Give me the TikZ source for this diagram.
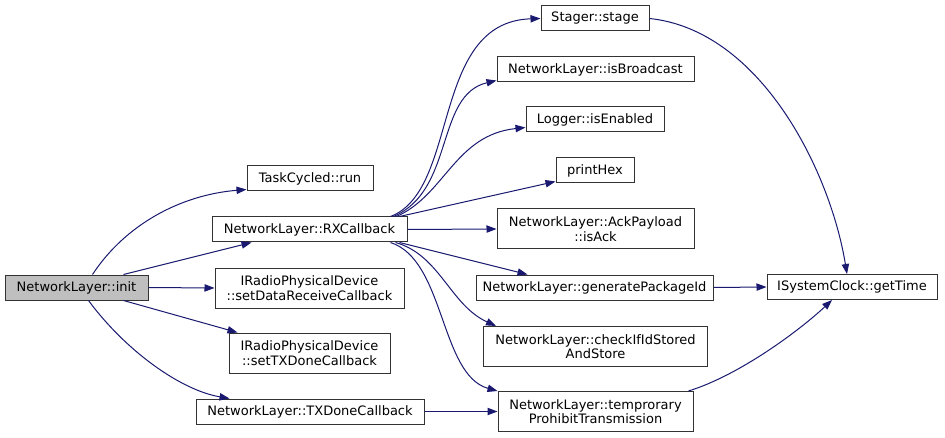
\documentclass[tikz,border=0pt]{standalone}
\usepackage{fontspec}
\setmainfont{DejaVu Sans}
\usepackage{xcolor}
\usepackage{tikz}
\usetikzlibrary{arrows.meta,calc}
\definecolor{edgeblue}{RGB}{25,25,112}
\definecolor{rootgray}{RGB}{191,191,191}

\begin{document}
\begin{tikzpicture}[
    x=0.75pt, y=-0.75pt,
    fn/.style={draw=black!80, line width=0.75pt, fill=white, minimum height=18.75pt, inner sep=0pt, align=center, font=\fontsize{9.75}{10.8}\selectfont},
    fntwo/.style={fn, minimum height=30pt},
    call/.style={draw=edgeblue, line width=0.75pt, -{Triangle[length=7.5pt,width=5.5pt]}}
]
\useasboundingbox (0,0) rectangle (945,438);
\node[fn, fill=rootgray, minimum width=107.25pt] (init) at (76.5,287.5) {NetworkLayer::init};
\node[fn, minimum width=94.5pt] (task) at (310,178.5) {TaskCycled::run};
\node[fn, minimum width=146.25pt] (rx) at (309.5,229.5) {NetworkLayer::RXCallback};
\node[fntwo, minimum width=141.75pt] (setdata) at (309.5,288) {IRadioPhysicalDevice\\::setDataReceiveCallback};
\node[fntwo, minimum width=120.75pt] (settx) at (309.5,353) {IRadioPhysicalDevice\\::setTXDoneCallback};
\node[fn, minimum width=171pt] (txdone) at (310,411.5) {NetworkLayer::TXDoneCallback};
\node[fn, minimum width=81pt] (stage) at (595,18.5) {Stager::stage};
\node[fn, minimum width=147.75pt] (bcast) at (595.5,69.5) {NetworkLayer::isBroadcast};
\node[fn, minimum width=103.5pt] (logen) at (595,119.5) {Logger::isEnabled};
\node[fn, minimum width=58.5pt] (hex) at (595,170.5) {printHex};
\node[fntwo, minimum width=147.75pt] (ack) at (595.5,229) {NetworkLayer::AckPayload\\::isAck};
\node[fn, minimum width=177.75pt] (genid) at (594.5,287.5) {NetworkLayer::generatePackageId};
\node[fntwo, minimum width=168pt] (check) at (595.5,346.5) {NetworkLayer::checkIfIdStored\\AndStore};
\node[fntwo, minimum width=146.25pt] (prohibit) at (595.5,411.5) {NetworkLayer::temprorary\\ProhibitTransmission};
\node[fn, minimum width=127.5pt] (gettime) at (852,287) {ISystemClock::getTime};

\draw[call] ($(init.north)+(16,0)$) .. controls (125,225) and (180,195) .. ($(task.south west)+(0,-2)$);
\draw[call] ($(init.north)+(47,0)$) -- ($(rx.south west)+(40,0)$);
\draw[call] (init.east) -- (setdata.west);
\draw[call] ($(init.south)+(47,0)$) -- ($(settx.north west)+(9,0)$);
\draw[call] ($(init.south)+(12,0)$) .. controls (125,350) and (180,390) .. ($(txdone.north west)+(34,0)$);

\draw[call] ($(rx.north east)+(-17,0)$) .. controls (460,190) and (430,22) .. (stage.west);
\draw[call] ($(rx.north east)+(-14,0)$) .. controls (455,190) and (435,95) .. ($(bcast.south west)+(0,-2)$);
\draw[call] ($(rx.north east)+(-11,0)$) .. controls (445,195) and (455,135) .. ($(logen.south west)+(0,-5)$);
\draw[call] ($(rx.north east)+(-8,0)$) -- ($(hex.south west)+(0,-2)$);
\draw[call] (rx.east) -- (ack.west);
\draw[call] ($(rx.south east)+(-8,0)$) -- ($(genid.north west)+(52,0)$);
\draw[call] ($(rx.south east)+(-12,0)$) .. controls (440,255) and (450,305) .. ($(check.north west)+(13,0)$);
\draw[call] ($(rx.south east)+(-17,0)$) .. controls (445,260) and (440,375) .. (prohibit.north west);
\draw[call] (txdone.east) -- (prohibit.west);

\draw[call] (stage.east) .. controls (760,30) and (830,170) .. ($(gettime.north)+(-5,0)$);
\draw[call] (genid.east) -- (gettime.west);
\draw[call] ($(prohibit.north east)+(-5,0)$) .. controls (740,375) and (800,330) .. ($(gettime.south)+(-20,0)$);
\end{tikzpicture}
\end{document}
